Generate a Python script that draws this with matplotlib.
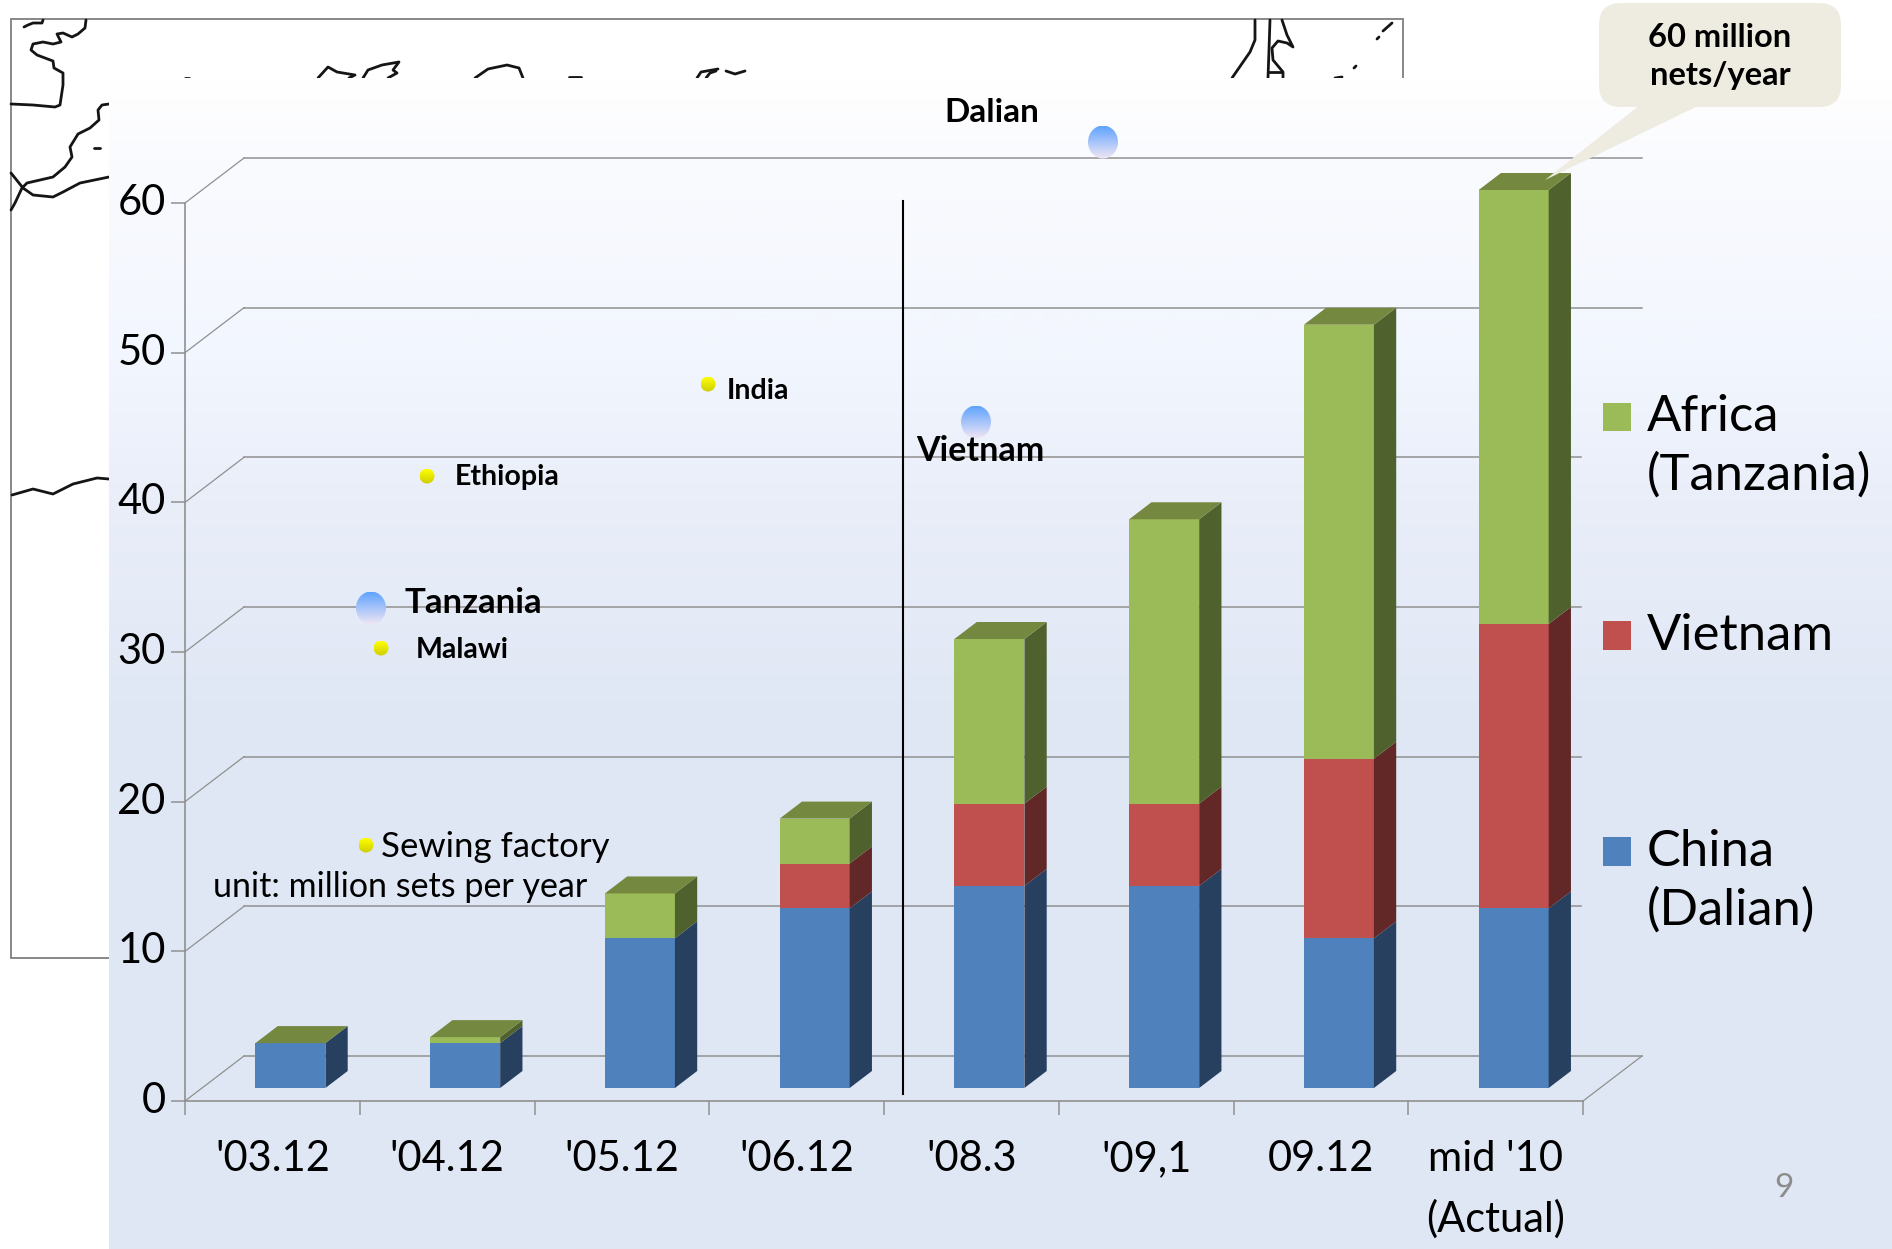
import numpy as np
import matplotlib
matplotlib.use('Agg')
import matplotlib.pyplot as plt
from matplotlib.patches import Polygon, Rectangle, Ellipse, FancyBboxPatch

plt.rcParams['font.family'] = ['Lato', 'DejaVu Sans']

# Chart data, million sets per year
categories = ["'03.12", "'04.12", "'05.12", "'06.12", "'08.3", "'09,1", "09.12", "mid '10\n(Actual)"]
china = [3, 3, 10, 12, 13.5, 13.5, 10, 12]
vietnam = [0, 0, 0, 3, 5.5, 5.5, 12, 19]
africa = [0, 0.4, 3, 3, 11, 19, 29, 29]
y_ticks = [0, 10, 20, 30, 40, 50, 60]

# Factory locations written on the slide
sewing_sites = [('India', 708, 384, 727, 391), ('Ethiopia', 427, 476, 455, 477), ('Malawi', 381, 648, 416, 650)]
main_sites = [(1103, 142), (976, 422), (371, 608)]

W, H = 1892, 1249

# Map fragments behind the chart, in pixels
map_lines = [
    [(86, 20), (85, 28), (78, 34), (72, 37), (63, 33), (57, 34), (61, 42), (53, 44), (43, 42), (33, 44), (31, 50),
     (37, 55), (53, 61), (54, 68), (63, 73), (63, 85), (60, 105), (55, 107), (33, 105), (11, 104)],
    [(24, 27), (28, 25), (33, 23), (42, 23), (43, 20)],
    [(109, 104), (102, 105), (98, 110), (99, 120), (90, 128), (78, 134), (70, 147), (72, 157), (65, 167), (53, 177),
     (27, 183), (22, 188), (15, 203), (11, 210)],
    [(11, 173), (23, 188), (33, 195), (53, 197), (63, 192), (80, 183), (109, 177)],
    [(94, 148), (100, 148)],
    [(12, 495), (33, 489), (53, 494), (73, 484), (97, 478), (109, 479)],
    [(185, 78), (189, 78)],
    [(318, 78), (328, 67), (337, 72), (355, 75), (349, 78)],
    [(363, 78), (368, 70), (382, 65), (399, 62), (393, 70), (397, 73), (388, 78)],
    [(475, 78), (488, 69), (507, 65), (519, 68), (523, 78)],
    [(569, 77), (581, 77)],
    [(697, 78), (701, 72), (718, 69)],
    [(706, 78), (710, 73), (716, 71)],
    [(726, 71), (735, 74), (745, 71)],
    [(1255, 20), (1255, 40), (1250, 52), (1232, 78)],
    [(1270, 20), (1269, 50), (1268, 78)],
    [(1282, 20), (1287, 35), (1293, 47), (1287, 43), (1278, 41), (1272, 48), (1273, 60), (1283, 72), (1283, 78)],
    [(1269, 72), (1282, 72)],
    [(1383, 31), (1392, 23)],
    [(1377, 39), (1379, 37)],
    [(1354, 68), (1356, 66)],
    [(1335, 78), (1342, 77)],
]

fig = plt.figure(figsize=(W / 100, H / 100), dpi=100, facecolor='white')

# background layer in pixel coordinates
bg = fig.add_axes([0, 0, 1, 1], zorder=0)
bg.set_xlim(0, W)
bg.set_ylim(H, 0)
bg.axis('off')

bg.add_patch(Rectangle((11, 19), 1392, 939, fc='white', ec='#7f7f7f', lw=1.3))
for line in map_lines:
    pts = np.array(line)
    bg.plot(pts[:, 0], pts[:, 1], color='#151515', lw=2.0, solid_capstyle='round')

# slide panel with vertical gradient
stop_y = [78, 160, 360, 500, 700, 1249]
stop_c = np.array([[255, 255, 255], [250, 251, 254], [242, 246, 254], [233, 238, 249], [225, 232, 245], [224, 231, 244]]) / 255
ys = np.arange(78, H + 1)
grad = np.stack([np.interp(ys, stop_y, stop_c[:, i]) for i in range(3)], axis=1)[:, None, :]
bg.imshow(grad, extent=[109, W, H, 78], aspect='auto', zorder=3)
bg.set_xlim(0, W)
bg.set_ylim(H, 0)

# chart axes: front plane of the 3D box
x0, x1, y0, y60 = 185, 1583, 1101, 203
ax = fig.add_axes([x0 / W, 1 - y0 / H, (x1 - x0) / W, (y0 - y60) / H], zorder=1)
ax.patch.set_alpha(0)
n = len(categories)
ax.set_xlim(0, n)
ax.set_ylim(0, 60)

px_x = (x1 - x0) / n
px_y = (y0 - y60) / 60
back_dx = 59 / px_x
back_dy = 45 / px_y
front = 13 / 45
depth = 17 / 45
bar_w = 70 / px_x

grid_c = '#909090'
for v in y_ticks:
    end = n + back_dx if v in (0, 50, 60) else (1581 - x0) / px_x
    ax.plot([back_dx, end], [v + back_dy] * 2, color=grid_c, lw=1.1, clip_on=False, zorder=1)
    ax.plot([0, back_dx], [v, v + back_dy], color=grid_c, lw=0.9, clip_on=False, zorder=1)
ax.plot([n, n + back_dx], [0, back_dy], color=grid_c, lw=0.9, clip_on=False, zorder=1)

series = [(china, '#4f81bd', '#27405f'), (vietnam, '#c0504d', '#612827'), (africa, '#9bbb59', '#4f612d')]
xc = np.arange(n) + 0.5 + front * back_dx + 1.0 / px_x
base = np.full(n, front * back_dy)
ddx, ddy = depth * back_dx, depth * back_dy
for vals, col, side in series:
    vals = np.array(vals, dtype=float)
    ax.bar(xc, vals, bar_w, bottom=base, color=col, lw=0, clip_on=False, zorder=3)
    for i in range(n):
        if vals[i] > 0:
            r = xc[i] + bar_w / 2
            ax.add_patch(Polygon([(r, base[i]), (r + ddx, base[i] + ddy), (r + ddx, base[i] + vals[i] + ddy),
                                  (r, base[i] + vals[i])], fc=side, lw=0, clip_on=False, zorder=3))
    base = base + vals
for i in range(n):
    l, r = xc[i] - bar_w / 2, xc[i] + bar_w / 2
    ax.add_patch(Polygon([(l, base[i]), (r, base[i]), (r + ddx, base[i] + ddy), (l + ddx, base[i] + ddy)],
                         fc='#75883f', lw=0, clip_on=False, zorder=3))

for s in ('top', 'right'):
    ax.spines[s].set_visible(False)
for s in ('left', 'bottom'):
    ax.spines[s].set_color(grid_c)
    ax.spines[s].set_linewidth(1.2)
ax.set_xticks(range(n + 1))
ax.set_xticklabels([])
ax.set_xticks(np.arange(n) + 0.5, categories, minor=True)
ax.tick_params(axis='x', which='major', length=10, width=1.1, color=grid_c)
ax.tick_params(axis='x', which='minor', length=0, pad=28, labelsize=30)
ax.set_yticks(y_ticks)
ax.tick_params(axis='y', length=10, width=1.1, color=grid_c, pad=4, labelsize=30)
for lab in ax.get_yticklabels():
    lab.set_va('center')
for lab in ax.get_xticklabels(minor=True):
    lab.set_linespacing(1.65)

# overlay with annotations, pixel coordinates again
ov = fig.add_axes([0, 0, 1, 1], zorder=2)
ov.set_xlim(0, W)
ov.set_ylim(H, 0)
ov.axis('off')

ov.plot([903, 903], [201, 1094], color='black', lw=1.5)


def shaded(cx, cy, w, h, top, bottom):
    # ball with a vertical colour fade
    t = np.linspace(0, 1, 64)[:, None, None]
    img = (1 - t) * np.array(top) / 255 + t * np.array(bottom) / 255
    im = ov.imshow(img, extent=[cx - w / 2, cx + w / 2, cy + h / 2, cy - h / 2], aspect='auto', zorder=2)
    clip = Ellipse((cx, cy), w, h, transform=ov.transData)
    im.set_clip_path(clip)


for cx, cy in main_sites:
    shaded(cx, cy, 30, 33, (96, 164, 255), (242, 230, 244))
for name, dx, dy, tx, ty in sewing_sites:
    shaded(dx, dy, 15, 15, (255, 255, 0), (205, 205, 0))
    ov.text(tx, ty, name, fontsize=20.5, fontweight='bold', va='center', ha='left')
shaded(366, 845, 15, 15, (255, 255, 0), (205, 205, 0))
ov.set_xlim(0, W)
ov.set_ylim(H, 0)

ov.text(404, 603, 'Tanzania', fontsize=25, fontweight='bold', va='center', ha='left')
ov.text(980, 451, 'Vietnam', fontsize=24.5, fontweight='bold', va='center', ha='center')
ov.text(992, 112, 'Dalian', fontsize=24, fontweight='bold', va='center', ha='center')
ov.text(381, 847, 'Sewing factory', fontsize=25, va='center', ha='left')
ov.text(213, 887, 'unit: million sets per year', fontsize=24.5, va='center', ha='left')

# legend
ov.add_patch(Rectangle((1603, 403), 28, 28, fc='#9bbb59', lw=0))
ov.add_patch(Rectangle((1603, 621), 28, 29, fc='#c0504d', lw=0))
ov.add_patch(Rectangle((1603, 837), 28, 29, fc='#4f81bd', lw=0))
ov.text(1647, 417, 'Africa', fontsize=36.5, va='center', ha='left')
ov.text(1647, 475, '(Tanzania)', fontsize=36.5, va='center', ha='left')
ov.text(1647, 636, 'Vietnam', fontsize=36.5, va='center', ha='left')
ov.text(1647, 852, 'China', fontsize=36.5, va='center', ha='left')
ov.text(1647, 910, '(Dalian)', fontsize=36.5, va='center', ha='left')

# callout
call_c = '#eeebe0'
ov.add_patch(FancyBboxPatch((1621, 3 + 22), 198, 60, boxstyle='round,pad=22', fc=call_c, lw=0))
ov.add_patch(Polygon([(1640, 105), (1700, 105), (1545, 180)], fc=call_c, lw=0))
ov.text(1720, 37, '60 million', fontsize=23.5, fontweight='bold', va='center', ha='center')
ov.text(1720, 75, 'nets/year', fontsize=23.5, fontweight='bold', va='center', ha='center')

ov.text(1784, 1188, '9', fontsize=24, color='#8c8c8c', va='center', ha='center')

fig.savefig('out.png', dpi=100)
